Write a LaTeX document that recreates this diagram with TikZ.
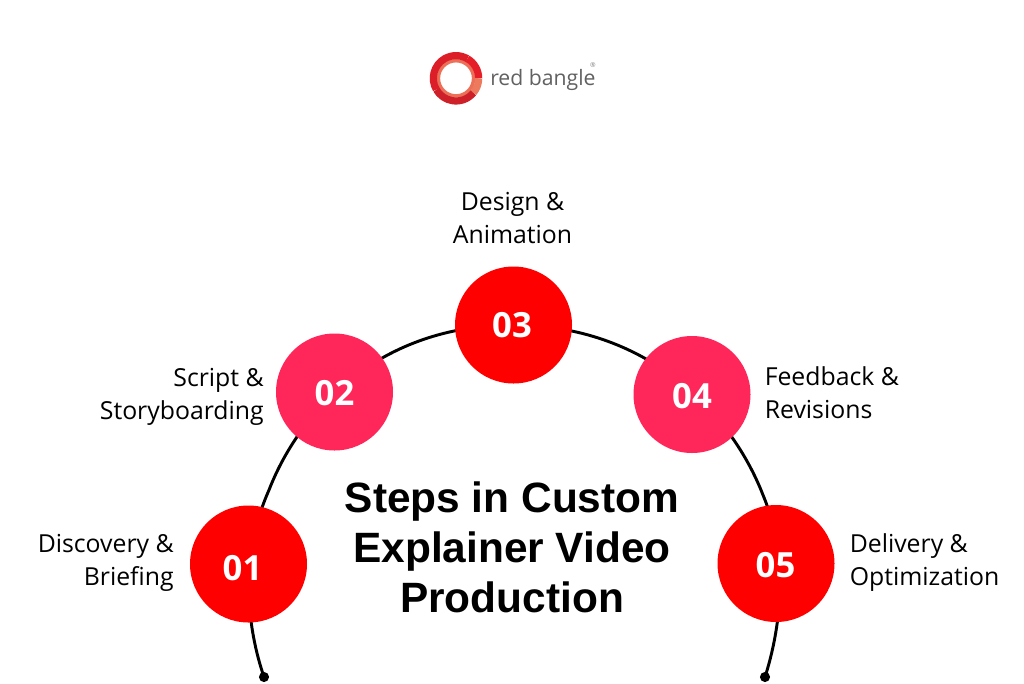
\documentclass[tikz,border=0pt]{standalone}
\usepackage{fontspec}
\setmainfont{Open Sans}
\newfontfamily\titlefont{Liberation Sans}
\definecolor{redA}{HTML}{FF0000}
\definecolor{pinkA}{HTML}{FF265A}
\definecolor{logoTop}{HTML}{E61E28}
\definecolor{logoLeft}{HTML}{DC1E28}
\definecolor{logoLow}{HTML}{CE2028}
\definecolor{logoSalmon}{HTML}{EE7A5E}
\definecolor{logoInner}{HTML}{EC7058}
\newdimen\unit \unit=0.75pt
\tikzset{
  stepcircle/.style={circle,minimum size=117\unit,inner sep=0pt},
  numtext/.style={text=white,font=\fontsize{26}{26}\selectfont\bfseries,inner sep=0pt},
  lab/.style={font=\fontsize{18.6}{24.75}\selectfont,text=black,inner sep=0pt},
  logoarc/.style={line width=5.4pt},
}
\begin{document}
\begin{tikzpicture}[x=0.75pt,y=-0.75pt]
\useasboundingbox (0,0) rectangle (1024,683);
\fill[white] (0,0) rectangle (1024,683);
\coordinate (e1) at (264,677);
\coordinate (e2) at (765,677);
\draw[line width=2.2pt,black] (e1) .. controls (248,630) and (238,560) .. (269,490) .. controls (300,410) and (380,325) .. (513,325) .. controls (645,325) and (730,410) .. (763,495) .. controls (790,560) and (780,630) .. (e2);
\fill (e1) circle (3.8pt);
\fill (e2) circle (3.8pt);
\node[stepcircle,fill=redA] (n1) at (248.5,564) {};
\node[stepcircle,fill=pinkA] (n2) at (334.5,392) {};
\node[stepcircle,fill=redA] (n3) at (513.5,325) {};
\node[stepcircle,fill=pinkA] (n4) at (692,394.5) {};
\node[stepcircle,fill=redA] (n5) at (776,563.5) {};
\node[numtext] (m1) at (242.5,568) {01};
\node[numtext] (m2) at (334.5,393) {02};
\node[numtext] (m3) at (512,325) {03};
\node[numtext] (m4) at (692,396) {04};
\node[numtext] (m5) at (775.5,565) {05};
\node[lab,align=right,anchor=east] (l1) at (174,562.5) {Discovery \&\\Briefing};
\node[lab,align=right,anchor=east] (l2) at (264,397) {Script \&\\Storyboarding};
\node[lab,align=center] (l3) at (512.5,218) {Design \&\\Animation};
\node[lab,align=left,anchor=west] (l4) at (764.5,393) {Feedback \&\\Revisions};
\node[lab,align=left,anchor=west] (l5) at (849.5,562.5) {Delivery \&\\Optimization};
\node[font=\titlefont\fontsize{31.8}{37.5}\selectfont\bfseries,align=center,inner sep=0pt] (t) at (512,547.5) {Steps in Custom\\Explainer Video\\Production};
% logo
\coordinate (lc) at (456,78.3);
\begin{scope}[shift={(lc)},x=1pt,y=1pt]
\draw[line width=2.6pt,logoInner] (0,0) circle (13.2pt);
\draw[logoarc,logoTop] (60:17pt) arc (60:0:17pt);
\draw[logoarc,logoSalmon] (0:17pt) arc (0:-40:17pt);
\draw[logoarc,logoLow] (-40:17pt) arc (-40:-150:17pt);
\draw[logoarc,logoLeft] (-150:17pt) arc (-150:-300:17pt);
\end{scope}
\node[font=\fontsize{15.9}{18}\selectfont,text=black!62,anchor=west,inner sep=0pt] (b) at (490,79.5) {red bangle};
\node[font=\fontsize{5}{5}\selectfont,text=black!50,inner sep=0pt] (r) at (593,65.5) {®};
\end{tikzpicture}
\end{document}
